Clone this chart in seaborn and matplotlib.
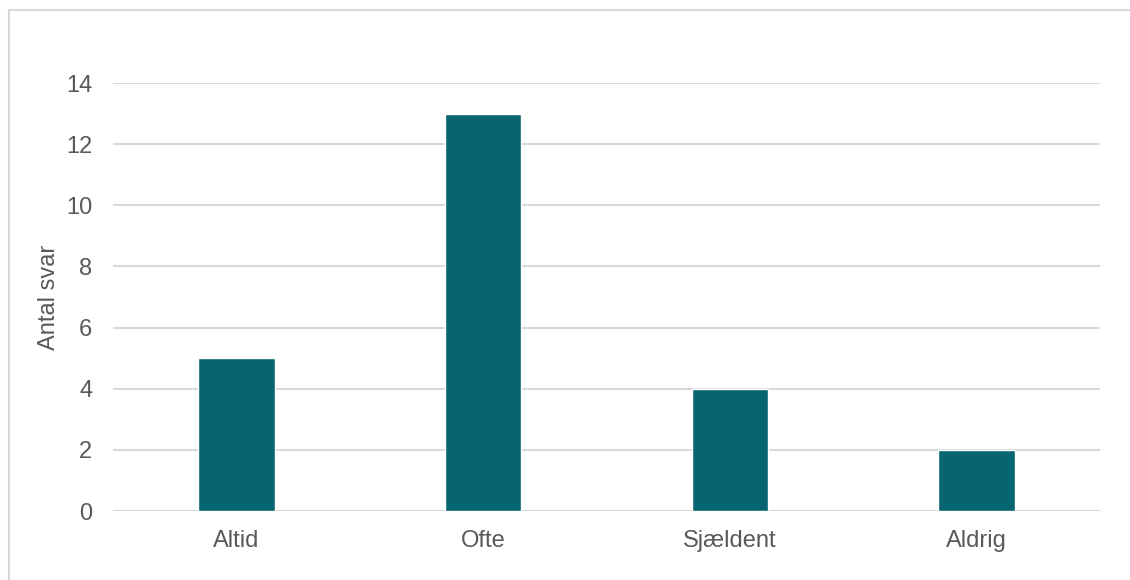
import matplotlib
matplotlib.use("Agg")
import matplotlib.pyplot as plt
import seaborn as sns
import pandas as pd
from matplotlib.patches import Rectangle

categories = ["Altid", "Ofte", "Sjældent", "Aldrig"]
values = [5, 13, 4, 2]
yticks = [0, 2, 4, 6, 8, 10, 12, 14]

sns.set_style("white")
plt.rcParams['font.family'] = ['Liberation Sans', 'DejaVu Sans']

df = pd.DataFrame({"kategori": categories, "antal": values})

fig = plt.figure(figsize=(11.3, 5.8), dpi=100)
# outer frame
fig.patches.append(Rectangle((9 / 1130, -0.05), 1.2, (580 - 10) / 580 + 0.05,
                             transform=fig.transFigure, fill=False,
                             edgecolor="#d9d9d9", linewidth=1.5))
ax = fig.add_axes([113 / 1130, 69 / 580, 987 / 1130, 428 / 580])

sns.barplot(data=df, x="kategori", y="antal", color="#066570", width=0.31,
            saturation=1, ax=ax, zorder=3)

ax.set_ylim(0, 14)
ax.set_xlim(-0.5, 3.5)
ax.set_yticks(yticks)
ax.yaxis.grid(True, color="#d9d9d9", linewidth=1.5, zorder=0)
ax.set_axisbelow(True)
for s in ["top", "right", "left", "bottom"]:
    ax.spines[s].set_visible(False)
ax.axhline(0, color="#d9d9d9", linewidth=1.5, zorder=1)
ax.tick_params(axis="both", length=0, labelsize=17, colors="#595959")
ax.tick_params(axis="x", pad=14)
ax.tick_params(axis="y", pad=15)
ax.set_xlabel("")
ax.set_ylabel("Antal svar", fontsize=17, color="#595959", labelpad=4)

fig.savefig("out.png", dpi=100)
